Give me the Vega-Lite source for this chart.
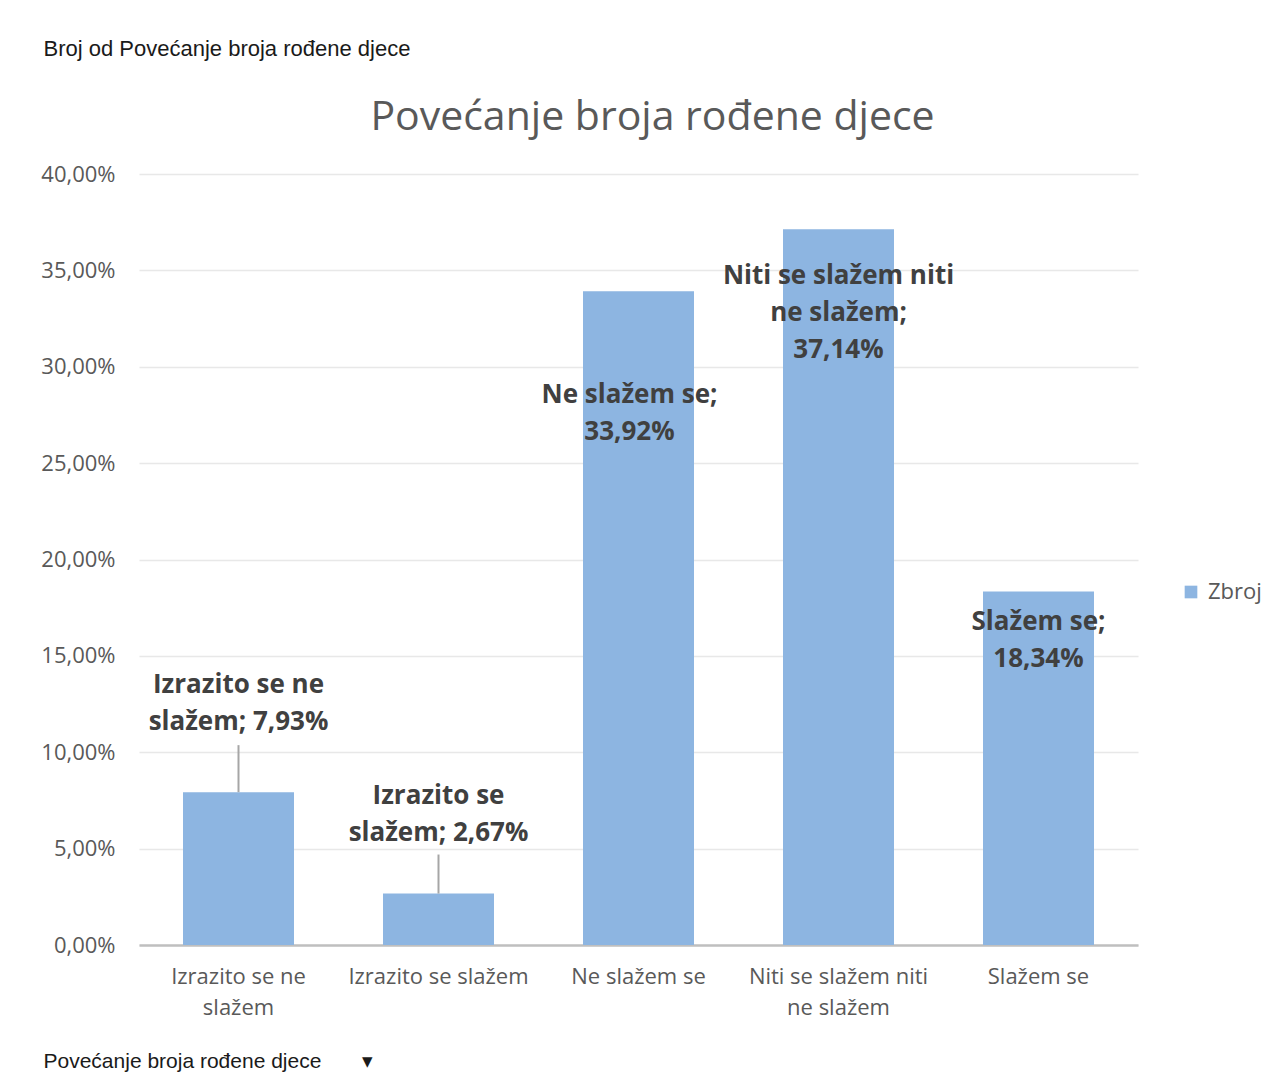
{
  "$schema": "https://vega.github.io/schema/vega-lite/v6.json",
  "autosize": {"type": "none"},
  "width": 999,
  "height": 771,
  "padding": {"left": 139, "top": 174, "right": 143, "bottom": 146},
  "background": "white",
  "config": {
    "locale": {"number": {"decimal": ",", "thousands": ".", "grouping": [3], "currency": ["", " €"]}},
    "view": {"stroke": null},
    "font": "Open Sans"
  },
  "title": {
    "text": "Povećanje broja rođene djece",
    "font": "Open Sans",
    "fontSize": 41,
    "fontWeight": "normal",
    "color": "#595959",
    "anchor": "middle",
    "dx": 14,
    "offset": -102
  },
  "data": {
    "values": [
      {"category": "Izrazito se ne slažem", "value": 0.0793, "label": ["Izrazito se ne", "slažem; 7,93%"]},
      {"category": "Izrazito se slažem", "value": 0.0267, "label": ["Izrazito se", "slažem; 2,67%"]},
      {"category": "Ne slažem se", "value": 0.3392, "label": ["Ne slažem se;", "33,92%"]},
      {"category": "Niti se slažem niti ne slažem", "value": 0.3714, "label": ["Niti se slažem niti", "ne slažem;", "37,14%"]},
      {"category": "Slažem se", "value": 0.1834, "label": ["Slažem se;", "18,34%"]}
    ]
  },
  "encoding": {
    "x": {
      "field": "category",
      "type": "nominal",
      "sort": null,
      "scale": {"paddingInner": 0.445, "paddingOuter": 0.22},
      "axis": {
        "labelAngle": 0,
        "labelFont": "Open Sans",
        "labelFontSize": 22,
        "labelColor": "#595959",
        "labelPadding": 21,
        "labelLineHeight": 31,
        "labelBaseline": "top",
        "labelLimit": 400,
        "labelExpr": "datum.label == 'Izrazito se ne slažem' ? ['Izrazito se ne', 'slažem'] : datum.label == 'Niti se slažem niti ne slažem' ? ['Niti  se slažem  niti', 'ne slažem'] : datum.label",
        "ticks": false,
        "domainColor": "#bfbfbf",
        "domainWidth": 2.5,
        "grid": false,
        "title": "Povećanje broja rođene djece\u00a0\u00a0\u00a0\u00a0\u00a0\u00a0\u00a0▾",
        "titleFont": "Liberation Sans",
        "titleFontSize": 21,
        "titleFontWeight": "normal",
        "titleColor": "#1a1a1a",
        "titleAlign": "left",
        "titleBaseline": "alphabetic",
        "titleX": -96,
        "titleY": 122
      }
    },
    "y": {
      "field": "value",
      "type": "quantitative",
      "scale": {"domain": [0, 0.4], "nice": false},
      "axis": {
        "values": [0, 0.05, 0.1, 0.15, 0.2, 0.25, 0.3, 0.35, 0.4],
        "format": ".2%",
        "labelFont": "Open Sans",
        "labelFontSize": 22,
        "labelColor": "#595959",
        "labelPadding": 24,
        "ticks": false,
        "domain": false,
        "gridColor": "#e8e8e8",
        "gridWidth": 1.5,
        "title": "Broj od Povećanje broja rođene djece",
        "titleFont": "Liberation Sans",
        "titleFontSize": 22,
        "titleFontWeight": "normal",
        "titleColor": "#1a1a1a",
        "titleAngle": 0,
        "titleAlign": "left",
        "titleBaseline": "alphabetic",
        "titleX": -96,
        "titleY": -119
      }
    }
  },
  "layer": [
    {
      "mark": {"type": "bar"},
      "encoding": {
        "color": {
          "datum": "Zbroj",
          "type": "nominal",
          "scale": {"range": ["#8db5e1"]},
          "legend": {
            "title": null,
            "orient": "none",
            "legendX": 1041,
            "legendY": 407,
            "symbolType": "square",
            "symbolSize": 160,
            "symbolStrokeWidth": 0,
            "labelFont": "Open Sans",
            "labelFontSize": 22,
            "labelColor": "#595959",
            "labelOffset": 6
          }
        }
      }
    },
    {
      "transform": [{"filter": "datum.value < 0.1"}],
      "mark": {"type": "rule", "color": "#a6a6a6", "strokeWidth": 2, "y2Offset": {"expr": "datum.value > 0.05 ? -47 : -39"}},
      "encoding": {
        "y2": {"field": "value"}
      }
    },
    {
      "mark": {
        "type": "text",
        "font": "Open Sans",
        "fontSize": 26,
        "fontWeight": "bold",
        "color": "#404040",
        "baseline": "middle",
        "align": "center",
        "lineHeight": 37,
        "dx": {"expr": "datum.category == 'Ne slažem se' ? -9 : 0"},
        "dy": {"expr": "datum.category == 'Izrazito se ne slažem' ? -107 : datum.category == 'Izrazito se slažem' ? -98 : datum.category == 'Ne slažem se' ? 104 : datum.category == 'Slažem se' ? 31 : 47"}
      },
      "encoding": {
        "text": {"field": "label"}
      }
    }
  ]
}
